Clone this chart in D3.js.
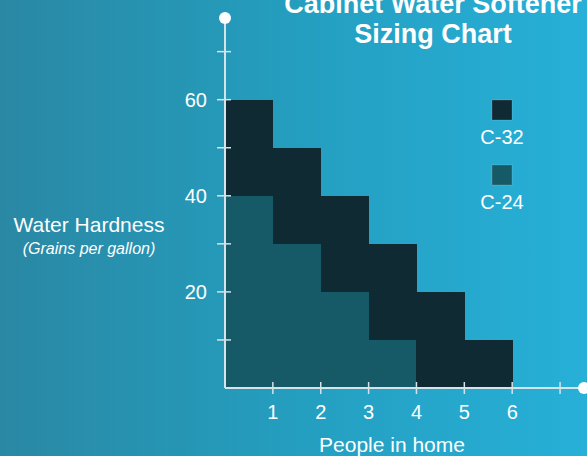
<!DOCTYPE html>
<html>
<head>
<meta charset="utf-8">
<script src="https://cdn.jsdelivr.net/npm/d3@7"></script>
<style>
  html, body { margin: 0; padding: 0; overflow: hidden; }
  svg { display: block; }
</style>
</head>
<body>
<script>
// people in home (bin i spans i-1 .. i)
const people = [1, 2, 3, 4, 5, 6];
// top of C-24 range per bin (grains per gallon)
const c24Top = [40, 30, 20, 10, 0, 0];
// top of C-32 range per bin
const c32Top = [60, 50, 40, 30, 20, 10];
const xTicks = [1, 2, 3, 4, 5, 6, 7];
const yTicks = [10, 20, 30, 40, 50, 60, 70];
const yLabels = [20, 40, 60];
const legendItems = ['C-32', 'C-24'];

const W = 587, H = 456;
const font = 'Liberation Sans, Arial, Helvetica, sans-serif';
const dark = '#0f2a33';
const mid = '#165a67';
const axisColor = '#d4e4e8';

const svg = d3.select('body').append('svg')
    .attr('width', W)
    .attr('height', H);

// background gradient
const grad = svg.append('defs').append('linearGradient')
    .attr('id', 'bg')
    .attr('x1', 0).attr('y1', 0).attr('x2', 1).attr('y2', 0);
grad.append('stop').attr('offset', 0).attr('stop-color', '#2a88a4');
grad.append('stop').attr('offset', 0.5).attr('stop-color', '#249ebf');
grad.append('stop').attr('offset', 1).attr('stop-color', '#27b0d8');

svg.append('rect')
    .attr('width', W)
    .attr('height', H)
    .attr('fill', 'url(#bg)');

const x = d3.scaleLinear().domain([0, 7.5]).range([225, 584]);
const y = d3.scaleLinear().domain([0, 77]).range([388, 18]);

// C-24 blocks
svg.append('g')
    .attr('shape-rendering', 'crispEdges')
    .selectAll('rect')
    .data(people.filter((p, i) => c24Top[i] > 0))
    .join('rect')
    .attr('x', p => x(p - 1))
    .attr('width', p => x(p) - x(p - 1) + 0.5)
    .attr('y', p => y(c24Top[p - 1]))
    .attr('height', p => y(0) - y(c24Top[p - 1]))
    .attr('fill', mid);

// C-32 blocks
svg.append('g')
    .attr('shape-rendering', 'crispEdges')
    .selectAll('rect')
    .data(people)
    .join('rect')
    .attr('x', p => x(p - 1))
    .attr('width', p => x(p) - x(p - 1) + 0.5)
    .attr('y', p => y(c32Top[p - 1]))
    .attr('height', p => y(c24Top[p - 1]) - y(c32Top[p - 1]) + 0.5)
    .attr('fill', dark);

// axes lines
svg.append('line')
    .attr('x1', x(0)).attr('x2', x(0))
    .attr('y1', y(0)).attr('y2', y(77))
    .attr('stroke', axisColor).attr('stroke-width', 2);
svg.append('line')
    .attr('x1', x(0)).attr('x2', x(7.5))
    .attr('y1', y(0)).attr('y2', y(0))
    .attr('stroke', axisColor).attr('stroke-width', 2);

svg.append('circle').attr('cx', x(0)).attr('cy', y(77)).attr('r', 6).attr('fill', '#fff');
svg.append('circle').attr('cx', x(7.5)).attr('cy', y(0)).attr('r', 6).attr('fill', '#fff');

// y ticks
svg.append('g').selectAll('line')
    .data(yTicks)
    .join('line')
    .attr('x1', x(0) - 8).attr('x2', x(0) + 6)
    .attr('y1', d => y(d)).attr('y2', d => y(d))
    .attr('stroke', axisColor).attr('stroke-width', 1.5);

svg.append('g').selectAll('text')
    .data(yLabels)
    .join('text')
    .attr('x', 207)
    .attr('y', d => y(d) + 7)
    .attr('text-anchor', 'end')
    .attr('fill', '#fff')
    .style('font-family', font)
    .style('font-size', '20px')
    .text(d => d);

// x ticks
svg.append('g').selectAll('line')
    .data(xTicks)
    .join('line')
    .attr('x1', d => x(d)).attr('x2', d => x(d))
    .attr('y1', y(0) - 6).attr('y2', y(0) + 6)
    .attr('stroke', axisColor).attr('stroke-width', 1.5);

svg.append('g').selectAll('text')
    .data(people)
    .join('text')
    .attr('x', d => x(d))
    .attr('y', 419)
    .attr('text-anchor', 'middle')
    .attr('fill', '#fff')
    .style('font-family', font)
    .style('font-size', '20px')
    .text(d => d);

// axis labels
svg.append('text')
    .attr('x', 89).attr('y', 232)
    .attr('text-anchor', 'middle')
    .attr('fill', '#fff')
    .style('font-family', font)
    .style('font-size', '21px')
    .text('Water Hardness');
svg.append('text')
    .attr('x', 89).attr('y', 254)
    .attr('text-anchor', 'middle')
    .attr('fill', '#fff')
    .style('font-family', font)
    .style('font-size', '16px')
    .style('font-style', 'italic')
    .text('(Grains per gallon)');
svg.append('text')
    .attr('x', 392).attr('y', 452)
    .attr('text-anchor', 'middle')
    .attr('fill', '#fff')
    .style('font-family', font)
    .style('font-size', '21px')
    .text('People in home');

// title (top line runs off the top edge, as in the original)
svg.append('text')
    .attr('x', 433).attr('y', 13)
    .attr('text-anchor', 'middle')
    .attr('fill', '#fff')
    .style('font-family', font)
    .style('font-size', '27px')
    .style('font-weight', 'bold')
    .text('Cabinet Water Softener');
svg.append('text')
    .attr('x', 433).attr('y', 43)
    .attr('text-anchor', 'middle')
    .attr('fill', '#fff')
    .style('font-family', font)
    .style('font-size', '27px')
    .style('font-weight', 'bold')
    .text('Sizing Chart');

// legend
const legend = svg.append('g').selectAll('g')
    .data(legendItems)
    .join('g')
    .attr('transform', (d, i) => `translate(502,${100 + i * 65})`);
legend.append('rect')
    .attr('x', -10).attr('y', 0)
    .attr('width', 20).attr('height', 20)
    .attr('fill', (d, i) => i === 0 ? dark : mid)
    .attr('stroke', 'rgba(255,255,255,0.2)')
    .attr('stroke-width', 0.8);
legend.append('text')
    .attr('x', 0).attr('y', 44)
    .attr('text-anchor', 'middle')
    .attr('fill', '#fff')
    .style('font-family', font)
    .style('font-size', '20px')
    .text(d => d);
</script>
</body>
</html>
